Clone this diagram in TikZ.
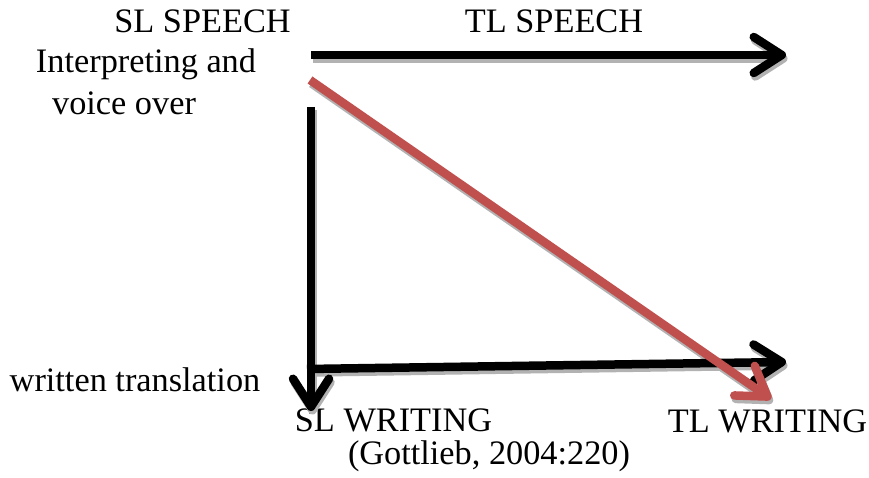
\documentclass[tikz,border=0pt]{standalone}
\usepackage{fontspec}
\setmainfont{Liberation Serif}
\usetikzlibrary{arrows.meta}
\definecolor{accentred}{HTML}{C0504D}
\begin{document}
\begin{tikzpicture}[x=1pt,y=1pt,
  lbl/.style={font=\fontsize{34.3}{40}\selectfont,inner sep=0pt,anchor=base},
  arr/.style={line width=8.5pt,-{Straight Barb[length=28pt,width=36pt,round]}},
  shd/.style={arr,gray!60}]
\useasboundingbox (0,0) rectangle (869,478);
% arrow ends
\coordinate (top0) at (311,423);
\coordinate (top1) at (786,423);
\coordinate (diag0) at (310,398);
\coordinate (diag1) at (771,79);
\coordinate (down0) at (311,371);
\coordinate (down1) at (311,67);
\coordinate (low0) at (307,109);
\coordinate (low1) at (786,116);
% labels
\node[lbl] (slspeech) at (202.5,445) {SL SPEECH};
\node[lbl] (tlspeech) at (554,445) {TL SPEECH};
\node[lbl] (interp) at (146,405) {Interpreting and};
\node[lbl] (voice) at (124,363) {voice over};
\node[lbl] (written) at (135,86) {written translation};
\node[lbl] (slwriting) at (393.5,46) {SL WRITING};
\node[lbl] (tlwriting) at (767.5,45) {TL WRITING};
\node[lbl] (source) at (489,13) {(Gottlieb, 2004:220)};
% shadows, then arrows
\foreach \a/\b in {top0/top1,down0/down1,low0/low1,diag0/diag1}
  \draw[shd] ([shift={(1.5,-3.5)}]\a) -- ([shift={(1.5,-3.5)}]\b);
\draw[arr] (top0) -- (top1);
\draw[arr] (down0) -- (down1);
\draw[arr] (low0) -- (low1);
\draw[arr,accentred] (diag0) -- (diag1);
\end{tikzpicture}
\end{document}
